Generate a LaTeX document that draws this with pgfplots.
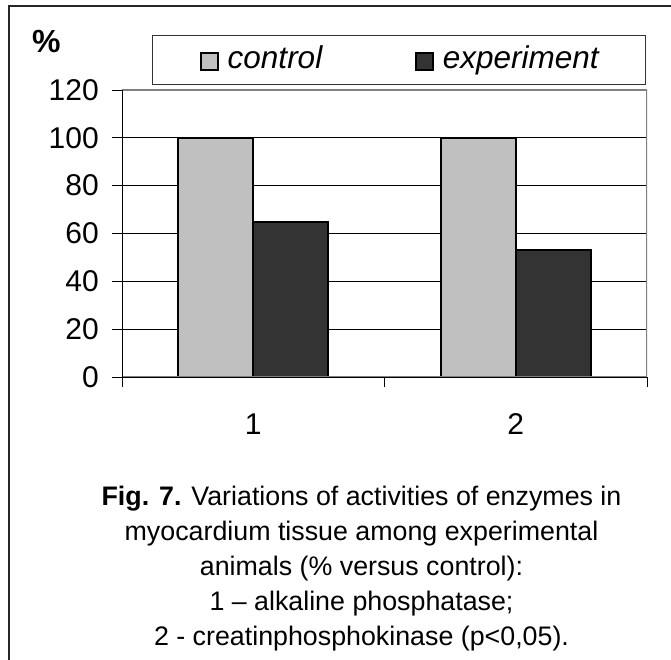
\documentclass[border=0pt]{standalone}
\usepackage{fontspec}
\setmainfont{Liberation Sans}
\usepackage{pgfplots}
\pgfplotsset{compat=1.18}
\definecolor{ctrl}{HTML}{C0C0C0}
\definecolor{expc}{HTML}{333333}
\definecolor{bord}{HTML}{808080}
\pgfplotsset{sqlegend/.style={legend image code/.code={\draw[##1, draw=black, line width=1.5pt] (0pt,-12pt) rectangle (17pt,5pt);}}}
\begin{document}
\begin{tikzpicture}[x=1pt,y=1pt]
\useasboundingbox (0,0) rectangle (671,659);
\clip (0,0) rectangle (671,659);
\fill[white] (0,0) rectangle (671,659);
\draw[black!85, line width=1.5pt] (9,-20) -- (9,653) -- (700,653);
\begin{axis}[
  at={(122pt,282pt)}, anchor=south west,
  scale only axis, width=525pt, height=287pt,
  xmin=0.5, xmax=2.5, ymin=0, ymax=120,
  ybar=0pt, bar width=75pt,
  xtick={1,2}, xticklabels={1,2},
  major x tick style={draw=none},
  minor xtick={0.5,1.5,2.5},
  minor x tick style={black, line width=0.8pt},
  ytick={0,20,...,120},
  y tick style={black, line width=0.8pt},
  tick pos=left,
  tick align=outside, major tick length=10pt, minor tick length=10pt,
  ymajorgrids, grid style={black, line width=0.8pt},
  axis line style={draw=none},
  /pgf/number format/assume math mode=true,
  ticklabel style={font=\fontsize{30}{36}\selectfont, inner sep=0pt},
  yticklabel style={anchor=east, xshift=-13pt},
  xticklabel style={anchor=base, yshift=-47pt},
  legend style={draw=none, fill=none, inner sep=0pt,
    at={(rel axis cs:0.1486,1.1096)}, anchor=west,
    legend columns=2,
    font=\itshape\fontsize{31.5}{36}\selectfont,
    nodes={inner sep=0pt},
    /tikz/every odd column/.append style={column sep=9pt},
    /tikz/every even column/.append style={column sep=93pt}},
]
\addplot[fill=ctrl, draw=black, line width=2pt, sqlegend]
  coordinates {(1,100) (2,100)};
\addplot[fill=expc, draw=black, line width=2pt, sqlegend]
  coordinates {(1,65) (2,53)};
\legend{control, experiment}
\draw[bord, line width=2pt] (rel axis cs:0,0) rectangle (rel axis cs:1,1);
\draw[black, line width=1pt] (rel axis cs:0,0) -- (rel axis cs:0,1);
\draw[black, line width=1pt] (rel axis cs:0,0) -- (rel axis cs:1,0);
\end{axis}
\draw[black!80, line width=1pt] (152,623) rectangle (645,574);
\node[anchor=base west, inner sep=0pt, font=\bfseries\fontsize{32}{36}\selectfont] at (32,606) {\%};
\node[anchor=base, align=center, inner sep=0pt, font=\fontsize{26.8}{35}\selectfont] at (361.5,14)
  {\textbf{Fig. 7.} Variations of activities of enzymes in\\
   myocardium tissue among experimental\\
   animals (\% versus control):\\
   1 – alkaline phosphatase;\\
   2 - creatinphosphokinase (p<0,05).};
\end{tikzpicture}
\end{document}
